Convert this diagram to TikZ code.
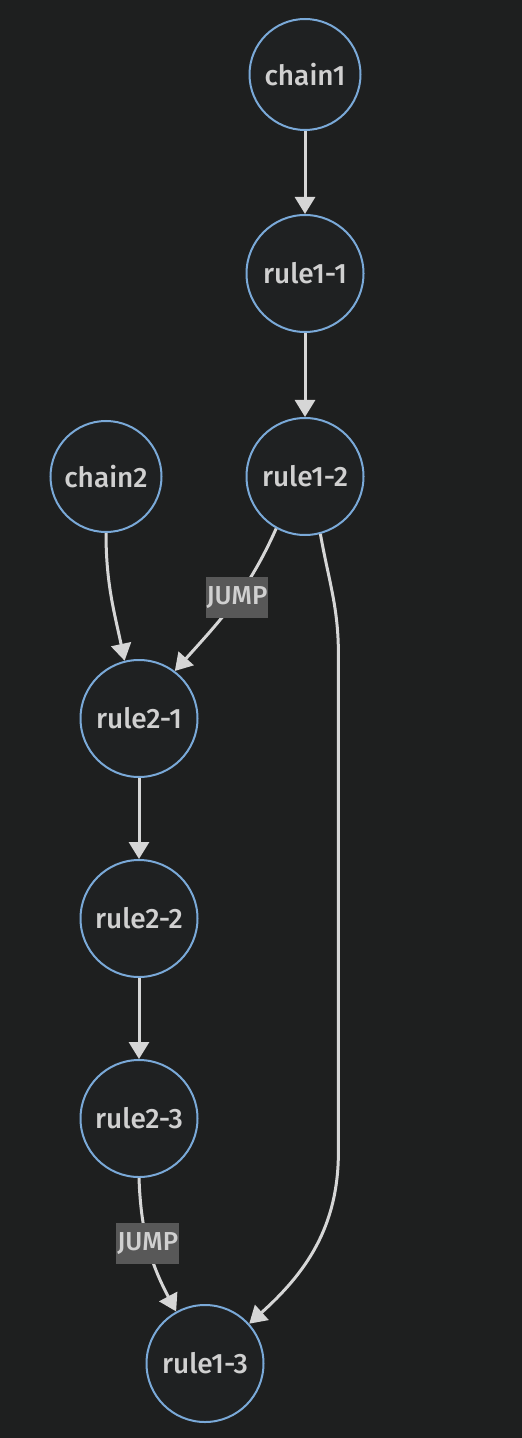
\documentclass[tikz,border=0pt]{standalone}
\usepackage{fontspec}
\setmainfont{Fira Sans}[UprightFont={* Medium}]
\usetikzlibrary{positioning,arrows.meta}
\definecolor{bg}{HTML}{1E1F1F}
\definecolor{nodefill}{HTML}{1F2122}
\definecolor{nodeblue}{HTML}{7AA9D8}
\definecolor{linegray}{HTML}{D6D6D6}
\definecolor{txtgray}{HTML}{D0D0D0}
\definecolor{lblbg}{HTML}{585858}

\begin{document}
\begin{tikzpicture}[
    state/.style={circle, draw=nodeblue, line width=1pt, fill=nodefill, text=txtgray,
      minimum size=58.5pt, inner sep=0pt, font=\fontsize{14}{16}\selectfont},
    chain/.style={state, minimum size=55.5pt},
    edge/.style={draw=linegray, line width=1.5pt, -{Triangle[length=8.5pt,width=10pt]}},
    jump/.style={fill=lblbg, text=txtgray, inner xsep=0.5pt, inner ysep=0pt,
      minimum height=20.5pt, font=\fontsize{13}{15}\selectfont},
    node distance=41.5pt
  ]
  \path[use as bounding box, fill=bg] (0,0) rectangle (261pt,-719pt);

  \node[chain] (chain1) at (152.5pt,-37.25pt) {chain1};
  \node[state, below=of chain1] (rule11) {rule1-1};
  \node[state, below=42pt of rule11] (rule12) {rule1-2};
  \node[chain, left=of rule12] (chain2) {chain2};
  \node[state, below=63pt of chain2, xshift=16.5pt] (rule21) {rule2-1};
  \node[state, below=40.5pt of rule21] (rule22) {rule2-2};
  \node[state, below=40.5pt of rule22] (rule23) {rule2-3};
  \node[state, below=63pt of rule23, xshift=33pt] (rule13) {rule1-3};

  \draw[edge] (chain1) -- (rule11);
  \draw[edge] (rule11) -- (rule12);
  \draw[edge] (chain2.south) to[out=-90,in=102] (rule21.104);
  \draw[edge] (rule12.241) to[out=246,in=48] node[jump, pos=0.45] {JUMP} (rule21.53);
  \draw[edge] (rule12.285) to[out=-80,in=90] ++(9pt,-60pt) -- ++(0,-249pt)
    to[out=-90,in=42] (rule13.42);
  \draw[edge] (rule21) -- (rule22);
  \draw[edge] (rule22) -- (rule23);
  \draw[edge] (rule23.south) to[out=-88,in=118] node[jump, pos=0.47] {JUMP} (rule13.119);
\end{tikzpicture}
\end{document}
